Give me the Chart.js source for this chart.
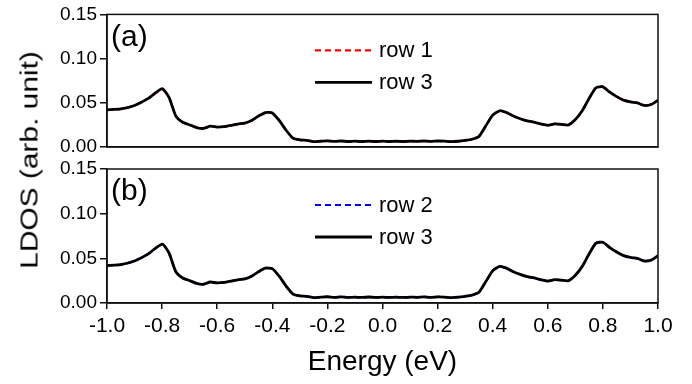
<!DOCTYPE html>
<html>
<head>
<meta charset="utf-8">
<script src="https://cdn.jsdelivr.net/npm/chart.js@4.4.1/dist/chart.umd.min.js"></script>
<style>
  html, body { margin: 0; padding: 0; background: #fff; }
  #wrap { position: relative; width: 692px; height: 384px; }
  #wrap canvas { position: absolute; left: 0; top: 0; }
  #ytitle {
    position: absolute; left: 30px; top: 160px; white-space: nowrap;
    font: 23px "Liberation Sans", Arial, sans-serif; color: #000;
    transform: translate(-50%, -50%) rotate(-90deg) scaleX(1.3);
  }
</style>
</head>
<body>
<div id="wrap">
  <canvas id="panelB" width="692" height="384"></canvas>
  <canvas id="panelA" width="692" height="384"></canvas>
  <div id="ytitle">LDOS (arb. unit)</div>
</div>
<script>
// energy grid (eV)
var energy = [
  -1.00, -0.95, -0.90, -0.85, -0.80, -0.775, -0.75, -0.725, -0.70, -0.675,
  -0.65, -0.625, -0.60, -0.575, -0.55, -0.525, -0.50, -0.475, -0.45, -0.425,
  -0.40, -0.375, -0.35, -0.325, -0.30, -0.275, -0.25, -0.225, -0.20, -0.175,
  -0.15, -0.125, -0.10, -0.075, -0.05, -0.025, 0.00, 0.025, 0.05, 0.075,
  0.10, 0.125, 0.15, 0.175, 0.20, 0.225, 0.25, 0.275, 0.30, 0.325,
  0.35, 0.375, 0.40, 0.425, 0.45, 0.475, 0.50, 0.525, 0.55, 0.575,
  0.60, 0.625, 0.65, 0.675, 0.70, 0.725, 0.75, 0.775, 0.80, 0.825,
  0.85, 0.875, 0.90, 0.925, 0.95, 0.975, 1.00
];

var row3 = [
  0.042, 0.043, 0.047, 0.055, 0.066, 0.056, 0.035, 0.028, 0.025, 0.022,
  0.021, 0.0235, 0.0225, 0.023, 0.0245, 0.026, 0.027, 0.030, 0.035, 0.039,
  0.0385, 0.030, 0.019, 0.010, 0.008, 0.0075, 0.006, 0.0065, 0.007, 0.0063,
  0.0068, 0.0062, 0.0066, 0.0062, 0.0067, 0.0062, 0.0066, 0.0062, 0.0065, 0.0062,
  0.0066, 0.0064, 0.0068, 0.0063, 0.0068, 0.0066, 0.006, 0.0065, 0.0075, 0.0088,
  0.012, 0.024, 0.036, 0.041, 0.039, 0.035, 0.032, 0.0295, 0.028, 0.026,
  0.0245, 0.0262, 0.0255, 0.025, 0.031, 0.041, 0.055, 0.067, 0.068, 0.062,
  0.057, 0.053, 0.051, 0.050, 0.047, 0.048, 0.053
];

var row1 = [
  0.042, 0.043, 0.047, 0.055, 0.065, 0.0565, 0.035, 0.028, 0.025, 0.022,
  0.021, 0.0235, 0.0225, 0.023, 0.0245, 0.026, 0.027, 0.030, 0.035, 0.0385,
  0.0385, 0.030, 0.019, 0.010, 0.008, 0.0075, 0.006, 0.0066, 0.007, 0.0063,
  0.0068, 0.0062, 0.0066, 0.0062, 0.0067, 0.0062, 0.0066, 0.0062, 0.0065, 0.0062,
  0.0066, 0.0064, 0.0068, 0.0063, 0.0068, 0.0066, 0.006, 0.0065, 0.0075, 0.0088,
  0.012, 0.024, 0.036, 0.0405, 0.039, 0.035, 0.032, 0.0295, 0.028, 0.026,
  0.0245, 0.0262, 0.0255, 0.025, 0.031, 0.041, 0.055, 0.067, 0.0685, 0.062,
  0.057, 0.053, 0.051, 0.050, 0.047, 0.048, 0.053
];

var row2 = [
  0.042, 0.043, 0.047, 0.055, 0.066, 0.056, 0.035, 0.028, 0.025, 0.022,
  0.021, 0.0235, 0.0225, 0.023, 0.0245, 0.026, 0.027, 0.030, 0.035, 0.039,
  0.0385, 0.030, 0.019, 0.010, 0.008, 0.0075, 0.006, 0.0065, 0.007, 0.0063,
  0.0068, 0.0062, 0.0066, 0.0062, 0.0067, 0.0062, 0.0066, 0.0062, 0.0065, 0.0062,
  0.0066, 0.0064, 0.0068, 0.0063, 0.0068, 0.0066, 0.006, 0.0065, 0.0075, 0.0088,
  0.012, 0.024, 0.036, 0.041, 0.039, 0.035, 0.032, 0.0295, 0.028, 0.026,
  0.0245, 0.0262, 0.0255, 0.025, 0.031, 0.041, 0.055, 0.067, 0.068, 0.062,
  0.057, 0.053, 0.051, 0.050, 0.047, 0.048, 0.053
];

var yTicks = [0, 0.05, 0.10, 0.15];
var xMin = -1.0, xMax = 1.0, xStep = 0.2;

var FONT = '"Liberation Sans", Arial, sans-serif';

function points(ys) {
  return energy.map(function(e, i) { return { x: e, y: ys[i] }; });
}

function dashed(label, ys, color) {
  return {
    label: label, data: points(ys), borderColor: color, backgroundColor: color,
    borderWidth: 2.2, borderDash: [6, 4], pointRadius: 0, tension: 0.2, order: 1
  };
}

function solid(label, ys) {
  return {
    label: label, data: points(ys), borderColor: "#000", backgroundColor: "#000",
    borderWidth: 2.8, pointRadius: 0, tension: 0.2, order: 0
  };
}

// frame, panel letter and the in-panel legend
var decor = {
  id: "decor",
  afterDatasetsDraw: function(chart, args, opts) {
    var ctx = chart.ctx, a = chart.chartArea;
    ctx.save();
    ctx.strokeStyle = "#111";
    ctx.lineWidth = 1.5;
    ctx.strokeRect(a.left, a.top, a.right - a.left, a.bottom - a.top);

    ctx.fillStyle = "#000";
    ctx.font = "30px " + FONT;
    ctx.textBaseline = "middle";
    ctx.textAlign = "left";
    ctx.fillText(opts.letter, a.left + 4, a.top + 23);

    ctx.font = "22px " + FONT;
    chart.data.datasets.forEach(function(ds, i) {
      var y = a.top + 36 + i * 32;
      ctx.beginPath();
      ctx.strokeStyle = ds.borderColor;
      ctx.lineWidth = ds.borderWidth;
      ctx.setLineDash(ds.borderDash || []);
      ctx.moveTo(315, y);
      ctx.lineTo(372, y);
      ctx.stroke();
      ctx.setLineDash([]);
      ctx.fillText(ds.label, 379, y + 1);
    });
    ctx.restore();
  }
};

function yScale() {
  return {
    min: 0, max: 0.15,
    afterBuildTicks: function(s) { s.ticks = yTicks.map(function(v) { return { value: v }; }); },
    afterFit: function(s) { s.width = 107; },
    ticks: {
      color: "#000", padding: 3, font: { family: FONT, size: 19 },
      callback: function(v) { return Number(v).toFixed(2); }
    },
    grid: { drawOnChartArea: false, drawTicks: true, tickLength: 7, color: "#111", lineWidth: 1.5 },
    border: { display: true, color: "#111", width: 1.5 }
  };
}

function makeChart(id, datasets, letter, showX) {
  var xs = {
    type: "linear", min: xMin, max: xMax,
    ticks: {
      display: showX, stepSize: xStep, color: "#000", padding: 5,
      font: { family: FONT, size: 21 },
      callback: function(v) { return Math.abs(v) < 1e-9 ? "0.0" : Number(v).toFixed(1); }
    },
    grid: { drawOnChartArea: false, drawTicks: showX, tickLength: 6, color: "#111", lineWidth: 1.5 },
    border: { display: true, color: "#111", width: 1.5 },
    afterFit: function(s) { s.height = showX ? 76 : 0; }
  };
  if (showX) {
    xs.title = { display: true, text: "Energy (eV)", color: "#000", padding: 0, font: { family: FONT, size: 28 } };
  }
  return new Chart(document.getElementById(id).getContext("2d"), {
    type: "line",
    data: { datasets: datasets },
    options: {
      responsive: false, animation: false, devicePixelRatio: 1,
      layout: { padding: showX ? { left: 0, right: 34, top: 169, bottom: 5 } : { left: 0, right: 34, top: 14, bottom: 237 } },
      plugins: { legend: { display: false }, tooltip: { enabled: false }, decor: { letter: letter } },
      scales: { x: xs, y: yScale() }
    },
    plugins: [decor]
  });
}

makeChart("panelA", [dashed("row 1", row1, "#ff0000"), solid("row 3", row3)], "(a)", false);
makeChart("panelB", [dashed("row 2", row2, "#0000ff"), solid("row 3", row3)], "(b)", true);
</script>
</body>
</html>
